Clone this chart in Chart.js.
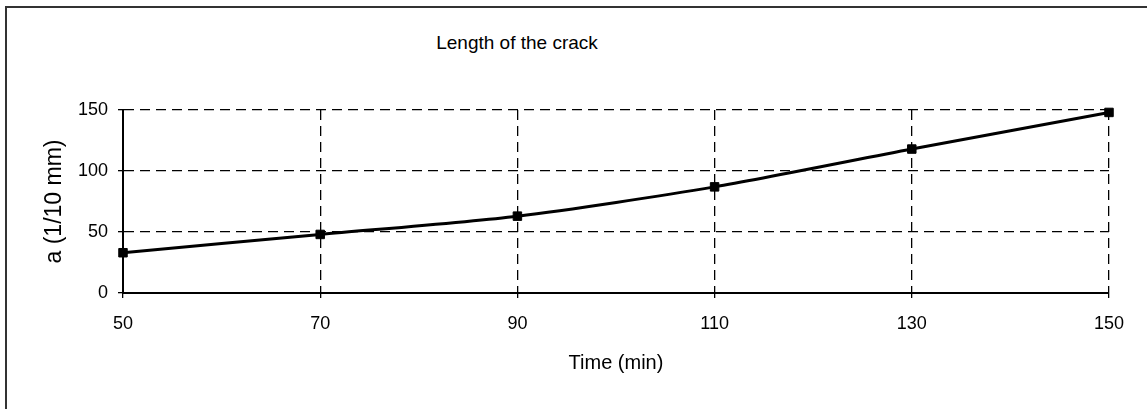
<!DOCTYPE html>
<html>
<head>
<meta charset="utf-8">
<script src="https://cdn.jsdelivr.net/npm/chart.js@4/dist/chart.umd.min.js"></script>
<style>
  html, body { margin: 0; padding: 0; background: #fff; overflow: hidden; }
  #wrap { position: relative; width: 1147px; height: 409px; }
  #frame { position: absolute; left: 5px; top: 6px; width: 1160px; height: 420px;
           border-top: 2px solid #333; border-left: 2px solid #333; }
  #title { position: absolute; left: 517px; top: 32px; transform: translateX(-50%);
           font: 19px "Liberation Sans", Arial, sans-serif; color: #000; white-space: nowrap; }
  canvas { position: absolute; left: 0; top: 0; }
</style>
</head>
<body>
<div id="wrap">
  <div id="frame"></div>
  <div id="title">Length of the crack</div>
  <canvas id="crackChart" width="1147" height="409"></canvas>
</div>
<script>
// crack length readings
const timeMin = [50, 70, 90, 110, 130, 150];
const crackLen = [33, 48, 63, 87, 118, 148];

const xTitle = "Time (min)";
const yTitle = "a (1/10 mm)";

const points = timeMin.map((t, i) => ({x: t, y: crackLen[i]}));

const fontFam = '"Liberation Sans", Arial, sans-serif';
const dashGrid = {
  color: "#000",
  lineWidth: 1.3,
  drawTicks: true,
  tickLength: 5,
  tickColor: "#000",
  tickBorderDash: []
};

const ctx = document.getElementById("crackChart").getContext("2d");
new Chart(ctx, {
  type: "line",
  data: {
    datasets: [{
      data: points,
      borderColor: "#000",
      backgroundColor: "#000",
      borderWidth: 3,
      tension: 0.25,
      pointStyle: "rect",
      pointRadius: 6,
      pointBorderWidth: 1,
      fill: false,
      clip: false
    }]
  },
  options: {
    responsive: false,
    animation: false,
    layout: { padding: { left: 0, right: 38, top: 110, bottom: 0 } },
    plugins: { legend: { display: false }, tooltip: { enabled: false }, title: { display: false } },
    scales: {
      x: {
        type: "linear",
        min: 50, max: 150,
        ticks: { stepSize: 20, color: "#000", padding: 15, font: { family: fontFam, size: 18 } },
        grid: dashGrid,
        border: { display: true, color: "#000", width: 2, dash: [10, 6] },
        title: { display: true, text: xTitle, color: "#000", padding: { top: 0, bottom: 34 },
                 font: { family: fontFam, size: 20 } },
        afterFit: s => { s.height = 116; }
      },
      y: {
        min: 0, max: 150,
        ticks: { stepSize: 50, color: "#000", padding: 10, font: { family: fontFam, size: 18 } },
        grid: dashGrid,
        border: { display: true, color: "#000", width: 2, dash: [10, 6] },
        title: { display: true, text: yTitle, color: "#000", padding: { top: 41, bottom: 0 },
                 font: { family: fontFam, size: 23 } },
        afterFit: s => { s.width = 123; }
      }
    }
  }
});
</script>
</body>
</html>
